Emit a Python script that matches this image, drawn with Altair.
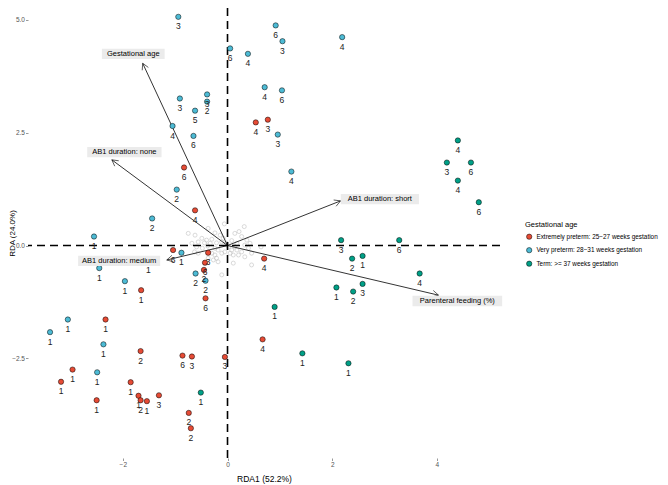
import math
import altair as alt
import pandas as pd

FONT = "Liberation Sans"

# ---- sample (site) scores per gestational-age group ----
ext_x = [-0.83, -0.62, 0.54, 0.77, 0.70, 0.67, -0.05, -1.04, -0.37, -0.43, -0.45, -0.42,
         -1.65, -2.33, -1.66, -0.86, -0.68, -2.96, -3.18, -1.85, -1.70, -1.66, -1.54,
         -1.31, -2.50, -0.74, -0.70, -1.51]
ext_y = [1.73, 0.78, 2.73, 2.79, -0.29, -2.08, -2.47, -0.10, -0.16, -0.38, -0.54, -1.17,
         -0.99, -1.64, -2.34, -2.44, -2.46, -2.75, -3.02, -3.03, -3.33, -3.43, -3.45,
         -3.32, -3.43, -3.71, -4.05, -0.34]
ext_lab = ["6", "4", "4", "3", "4", "4", "3", "6", "3", "6", "2", "6",
           "1", "1", "2", "6", "3", "1", "1", "1", "1", "2", "1",
           "3", "1", "2", "2", "1"]

very_x = [-0.94, 0.05, -0.91, -0.39, -0.39, -0.62, -1.05, -0.65, -0.97, -1.44, -2.55,
          0.92, 1.05, 2.19, 0.39, 0.71, 1.04, 0.96, 1.22, -0.88, -2.45, -1.96, -3.05,
          -3.39, -2.37, -2.49, -0.61, -0.42]
very_y = [5.07, 4.37, 3.26, 3.35, 3.19, 2.99, 2.65, 2.43, 1.24, 0.60, 0.20,
          4.88, 4.53, 4.62, 4.25, 3.51, 3.44, 2.46, 1.64, -0.16, -0.50, -0.79, -1.64,
          -1.92, -2.19, -2.81, -0.62, -0.78]
very_lab = ["3", "6", "3", "3", "2", "5", "4", "6", "2", "2", "1",
            "6", "3", "4", "4", "4", "6", "3", "4", "1", "1", "1", "1",
            "1", "1", "1", "2", "2"]

term_x = [4.40, 4.19, 4.40, 4.65, 4.80, 2.17, 3.28, 3.67, 2.38, 2.58, 2.08, 2.58, 2.40,
          0.90, 1.43, 2.31, -0.51]
term_y = [2.33, 1.84, 1.44, 1.84, 0.96, 0.12, 0.12, -0.62, -0.29, -0.23, -0.93, -0.85,
          -1.02, -1.36, -2.39, -2.61, -3.26]
term_lab = ["4", "3", "4", "6", "6", "3", "6", "4", "2", "1", "1", "3", "2",
            "1", "1", "1", "1"]

groups = ["Extremely preterm: 25\u221227 weeks gestation",
          "Very preterm: 28\u221231 weeks gestation",
          "Term: >= 37 weeks gestation"]
group_colors = ["#E64B35", "#4DBBD5", "#00A087"]

# ---- species scores (grey open circles) ----
sp_x = [-0.37, -0.06, 0.32, 0.22, -0.75, -0.62, -0.24, -0.14, -0.49, -0.40, -0.30, -0.08,
        0.14, 0.27, 0.37, -0.56, -0.44, -0.33, -0.21, -0.11, 0.08, 0.18, -0.59, -0.48,
        -0.38, -0.24, -0.18, 0.08, 0.18, 0.27, 0.40, 0.46, -0.30, -0.24, -0.11, -0.05,
        0.11, 0.21, 0.33, -0.37, -0.27, -0.18, 0.11, 0.46, -0.43, -0.11, -0.21, 0.05,
        0.02, -0.02, 0.14, -0.68, 0.64, -0.56, -0.63, 0.33, 0.43]
sp_y = [0.38, 0.48, 0.42, 0.31, 0.27, 0.23, 0.28, 0.23, 0.16, 0.12, 0.14, 0.16,
        0.27, 0.20, 0.12, 0.08, 0.06, 0.05, 0.06, 0.08, 0.11, 0.05, -0.03, -0.06,
        -0.01, -0.06, -0.10, -0.10, -0.10, -0.14, -0.06, -0.17, -0.17, -0.21, -0.17, -0.14,
        -0.21, -0.21, -0.25, -0.28, -0.32, -0.36, -0.39, -0.43, -0.39, -0.65, -0.28, -0.17,
        -0.03, 0.05, -0.03, 0.05, -0.03, -0.17, -0.14, 0.01, 0.05]

# ---- biplot arrows ----
arrow_names = ["Gestational age", "AB1 duration: none", "AB1 duration: medium",
               "AB1 duration: short", "Parenteral feeding (%)"]
arrow_x = [-1.62, -2.21, -1.16, 2.16, 4.03]
arrow_y = [4.04, 1.90, -0.32, 0.99, -1.10]
label_x = [-1.80, -1.97, -2.07, 2.91, 4.39]
label_y = [4.25, 2.07, -0.34, 1.03, -1.23]

# ---- layout ----
XMIN, XMAX = -3.811, 5.205
YMIN, YMAX = -4.71, 5.266
W, H = 472, 450
ppx = W / (XMAX - XMIN)
ppy = H / (YMAX - YMIN)

xs = alt.Scale(domain=[XMIN, XMAX], nice=False, zero=False)
ys = alt.Scale(domain=[YMIN, YMAX], nice=False, zero=False)
x_axis = alt.Axis(values=[-2, 0, 2, 4], format="d", title="RDA1 (52.2%)")
y_axis = alt.Axis(values=[-2.5, 0, 2.5, 5], format=".1f", title="RDA (24.0%)",
                  titleX=-15.5, titleBaseline="middle", titleAnchor="middle")

def XX(field):
    return alt.X(field, scale=xs, axis=x_axis)

def YY(field):
    return alt.Y(field, scale=ys, axis=y_axis)

pts = pd.DataFrame({
    "x": ext_x + very_x + term_x,
    "y": ext_y + very_y + term_y,
    "lab": ext_lab + very_lab + term_lab,
    "grp": [groups[0]] * len(ext_x) + [groups[1]] * len(very_x) + [groups[2]] * len(term_x),
})
sp = pd.DataFrame({"x": sp_x, "y": sp_y})

arr = pd.DataFrame({"x0": [0.0] * 5, "y0": [0.0] * 5, "x": arrow_x, "y": arrow_y})
arr["ang"] = [(math.degrees(math.atan2(-yy * ppy, xx * ppx)) + 360) % 360
              for xx, yy in zip(arrow_x, arrow_y)]

CHAR_W = 3.85
lab = pd.DataFrame({"x": label_x, "y": label_y, "t": arrow_names})
lab["x1"] = [lx - (len(t) * CHAR_W / 2 + 2.5) / ppx for lx, t in zip(label_x, arrow_names)]
lab["x2"] = [lx + (len(t) * CHAR_W / 2 + 2.5) / ppx for lx, t in zip(label_x, arrow_names)]
lab["y1"] = [ly - 5.2 / ppy for ly in label_y]
lab["y2"] = [ly + 5.2 / ppy for ly in label_y]

zero = pd.DataFrame({"x": [0.0], "y": [0.0]})
hline = alt.Chart(zero).mark_rule(
    color="black", strokeWidth=1.6, strokeDash=[8, 5]
).encode(y=YY("y:Q"))
vline = alt.Chart(zero).mark_rule(
    color="black", strokeWidth=1.6, strokeDash=[8, 5]
).encode(x=XX("x:Q"))

species = alt.Chart(sp).mark_point(
    shape="circle", filled=False, stroke="#b5b5b5", strokeWidth=0.7, size=16
).encode(x=XX("x:Q"), y=YY("y:Q"))

arrow_lines = alt.Chart(arr).mark_rule(color="black", strokeWidth=0.8).encode(
    x=XX("x0:Q"), x2="x:Q", y=YY("y0:Q"), y2="y:Q")

arrow_heads = alt.Chart(arr).mark_point(
    shape="M-1,-0.55L0,0L-1,0.55", filled=False, stroke="black", strokeWidth=0.8, size=150
).encode(x=XX("x:Q"), y=YY("y:Q"), angle=alt.Angle("ang:Q", scale=None))

points = alt.Chart(pts).mark_point(
    shape="circle", filled=True, stroke="black", strokeWidth=0.5, size=28, opacity=1
).encode(
    x=XX("x:Q"), y=YY("y:Q"),
    fill=alt.Fill("grp:N", scale=alt.Scale(domain=groups, range=group_colors),
                  legend=alt.Legend(title="Gestational age", orient="none",
                                    legendX=497, legendY=213)),
)

point_labels = alt.Chart(pts).mark_text(
    dy=9.5, fontSize=8.5, color="#222222", font=FONT, baseline="middle"
).encode(x=XX("x:Q"), y=YY("y:Q"), text="lab:N")

boxes = alt.Chart(lab).mark_rect(fill="#ebebeb").encode(
    x=XX("x1:Q"), x2="x2:Q", y=YY("y1:Q"), y2="y2:Q")

box_text = alt.Chart(lab).mark_text(fontSize=7.5, color="black", font=FONT,
                                     baseline="middle").encode(
    x=XX("x:Q"), y=YY("y:Q"), text="t:N")

chart = alt.layer(
    species, hline, vline, arrow_lines, arrow_heads, points, point_labels, boxes, box_text
).properties(
    width=W, height=H, autosize="none",
    padding={"left": 20, "top": 0, "right": 160, "bottom": 27},
).configure_view(stroke=None).configure_axis(
    grid=False, domain=False, tickColor="#555555", tickSize=2.5, tickWidth=0.6,
    labelColor="#555555", labelFontSize=6.5, labelFont=FONT, labelPadding=1,
    titleFont=FONT, titleFontSize=8.5, titleFontWeight="normal", titleColor="black",
).configure_axisX(titlePadding=6).configure_axisY(titleFontSize=8).configure_legend(
    titleFont=FONT, titleFontSize=7.5, titleFontWeight="normal", titleColor="black",
    labelFont=FONT, labelFontSize=6.4, labelColor="black", symbolSize=28,
    symbolStrokeColor="black", symbolStrokeWidth=0.5, rowPadding=5.5, padding=0,
    titlePadding=5, symbolOffset=1, labelLimit=200,
)

chart.save("out.html", embed_options={"renderer": "svg", "actions": False})
